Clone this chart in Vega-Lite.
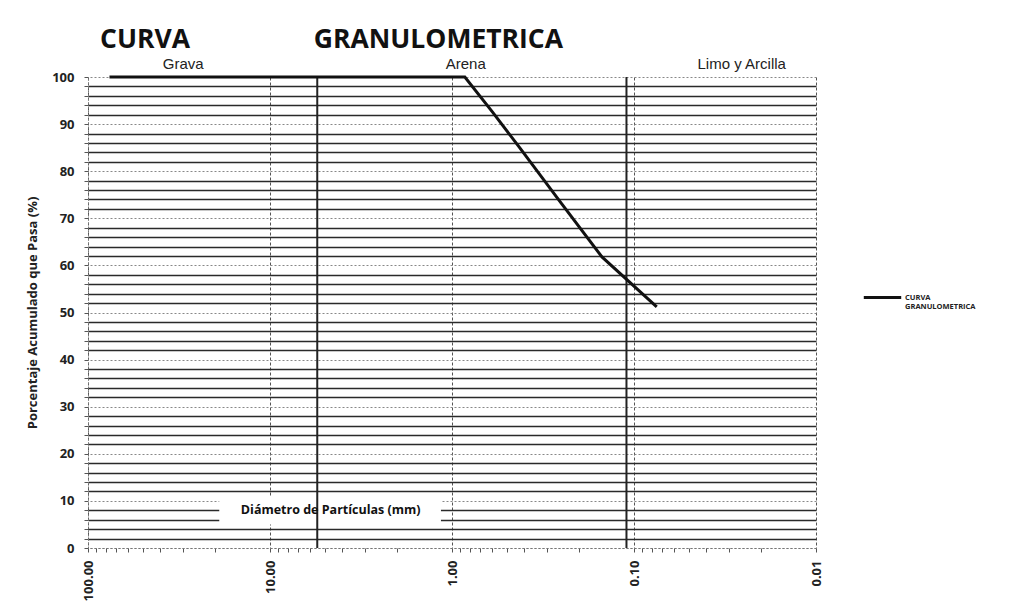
{
  "$schema": "https://vega.github.io/schema/vega-lite/v6.json",
  "width": 728,
  "height": 471,
  "autosize": {"type": "none"},
  "padding": {"left": 88, "top": 77, "right": 208, "bottom": 61},
  "background": "white",
  "title": {
    "text": "CURVA\u00a0\u00a0\u00a0\u00a0\u00a0\u00a0\u00a0\u00a0\u00a0\u00a0\u00a0\u00a0\u00a0\u00a0\u00a0\u00a0\u00a0\u00a0GRANULOMETRICA",
    "anchor": "start",
    "frame": "group",
    "dx": 12,
    "offset": 3,
    "font": "Open Sans",
    "fontSize": 26.5,
    "fontWeight": "bold",
    "color": "#111"
  },
  "datasets": {
    "curva": [
      {"d": 76.2, "p": 100, "serie": "CURVA GRANULOMETRICA"},
      {"d": 50.8, "p": 100, "serie": "CURVA GRANULOMETRICA"},
      {"d": 25.4, "p": 100, "serie": "CURVA GRANULOMETRICA"},
      {"d": 9.525, "p": 100, "serie": "CURVA GRANULOMETRICA"},
      {"d": 4.75, "p": 100, "serie": "CURVA GRANULOMETRICA"},
      {"d": 2.0, "p": 100, "serie": "CURVA GRANULOMETRICA"},
      {"d": 0.85, "p": 100, "serie": "CURVA GRANULOMETRICA"},
      {"d": 0.6, "p": 92.6, "serie": "CURVA GRANULOMETRICA"},
      {"d": 0.425, "p": 85.0, "serie": "CURVA GRANULOMETRICA"},
      {"d": 0.25, "p": 73.1, "serie": "CURVA GRANULOMETRICA"},
      {"d": 0.15, "p": 61.8, "serie": "CURVA GRANULOMETRICA"},
      {"d": 0.075, "p": 51.2, "serie": "CURVA GRANULOMETRICA"}
    ],
    "limites": [{"d": 5.5}, {"d": 0.11}],
    "zonas": [
      {"d": 30, "p": 102.8, "zona": "Grava"},
      {"d": 0.84, "p": 102.8, "zona": "Arena"},
      {"d": 0.0256, "p": 102.8, "zona": "Limo y Arcilla"}
    ],
    "rotulo": [{"d": 19, "d2": 1.15, "p": 5, "p2": 11, "dc": 4.64, "pc": 8.07, "t": "Diámetro de Partículas (mm)"}]
  },
  "layer": [
    {
      "data": {"name": "rotulo"},
      "mark": {"type": "rect", "fill": "white"},
      "encoding": {
        "x": {"field": "d", "type": "quantitative", "scale": {"type": "log", "domain": [0.01, 100], "reverse": true, "nice": false},
          "axis": {
            "title": null,
            "tickCount": 100,
            "values": [100, 90, 80, 70, 60, 50, 40, 30, 20, 10, 9, 8, 7, 6, 5, 4, 3, 2, 1, 0.9, 0.8, 0.7, 0.6, 0.5, 0.4, 0.3, 0.2, 0.1, 0.09, 0.08, 0.07, 0.06, 0.05, 0.04, 0.03, 0.02, 0.01],
            "labelExpr": "indexof([100,10,1,0.1,0.01], datum.value) >= 0 ? format(datum.value, '.2f') : ''",
            "labelAngle": -90,
            "labelFont": "Open Sans",
            "labelFontSize": 13,
            "labelFontWeight": "bold",
            "labelColor": "#222",
            "labelPadding": 8,
            "labelFlush": false,
            "labelOverlap": false,
            "tickSize": 4,
            "tickColor": "#555",
            "domainColor": "#777",
            "domainDash": [2, 2],
            "grid": true,
            "gridColor": "#555",
            "gridDash": [3, 2],
            "gridWidth": 1,
            "gridOpacity": {"condition": {"test": "indexof([100,10,1,0.1,0.01], datum.value) >= 0", "value": 1}, "value": 0}
          }
        },
        "x2": {"field": "d2"},
        "y": {"field": "p", "type": "quantitative", "scale": {"domain": [0, 100], "nice": false},
          "axis": {
            "title": "Porcentaje Acumulado que Pasa (%)",
            "titleFont": "Open Sans",
            "titleFontSize": 13,
            "titleFontWeight": "bold",
            "titleColor": "#222",
            "titlePadding": 12,
            "tickCount": 100,
            "values": [0, 2, 4, 6, 8, 10, 12, 14, 16, 18, 20, 22, 24, 26, 28, 30, 32, 34, 36, 38, 40, 42, 44, 46, 48, 50, 52, 54, 56, 58, 60, 62, 64, 66, 68, 70, 72, 74, 76, 78, 80, 82, 84, 86, 88, 90, 92, 94, 96, 98, 100],
            "labelExpr": "datum.value % 10 === 0 ? datum.label : ''",
            "labelFont": "Open Sans",
            "labelFontSize": 13,
            "labelFontWeight": "bold",
            "labelColor": "#222",
            "labelPadding": 10,
            "labelOverlap": false,
            "tickSize": 4,
            "tickColor": "#555",
            "domainColor": "#777",
            "domainDash": [2, 2],
            "grid": true,
            "gridColor": {"condition": {"test": "datum.value % 10 === 0", "value": "#888"}, "value": "#2a2a2a"},
            "gridDash": {"condition": {"test": "datum.value % 10 === 0", "value": [2, 2]}, "value": []},
            "gridWidth": {"condition": {"test": "datum.value % 10 === 0", "value": 1}, "value": 1.4}
          }
        },
        "y2": {"field": "p2"}
      }
    },
    {
      "data": {"name": "limites"},
      "mark": {"type": "rule", "stroke": "#222", "strokeWidth": 2},
      "encoding": {"x": {"field": "d", "type": "quantitative"}}
    },
    {
      "data": {"name": "curva"},
      "mark": {"type": "line", "strokeWidth": 3},
      "encoding": {
        "x": {"field": "d", "type": "quantitative"},
        "y": {"field": "p", "type": "quantitative"},
        "color": {"field": "serie", "type": "nominal", "scale": {"range": ["#111"]},
          "legend": {
            "title": null,
            "orient": "none",
            "legendX": 774,
            "legendY": 200,
            "symbolType": "stroke",
            "symbolSize": 1400,
            "symbolStrokeWidth": 3,
            "labelExpr": "['CURVA', 'GRANULOMETRICA']",
            "labelFont": "Open Sans",
            "labelFontSize": 7.5,
            "labelFontWeight": "bold",
            "labelColor": "#222",
            "labelOffset": 2,
            "labelLimit": 200
          }
        }
      }
    },
    {
      "data": {"name": "zonas"},
      "mark": {"type": "text", "font": "Liberation Sans", "fontSize": 15, "color": "#222", "baseline": "middle"},
      "encoding": {
        "x": {"field": "d", "type": "quantitative"},
        "y": {"field": "p", "type": "quantitative"},
        "text": {"field": "zona"}
      }
    },
    {
      "data": {"name": "rotulo"},
      "mark": {"type": "text", "font": "Open Sans", "fontSize": 12.5, "fontWeight": "bold", "color": "#111", "baseline": "middle"},
      "encoding": {
        "x": {"field": "dc", "type": "quantitative"},
        "y": {"field": "pc", "type": "quantitative"},
        "text": {"field": "t"}
      }
    }
  ],
  "config": {"view": {"stroke": null}}
}
